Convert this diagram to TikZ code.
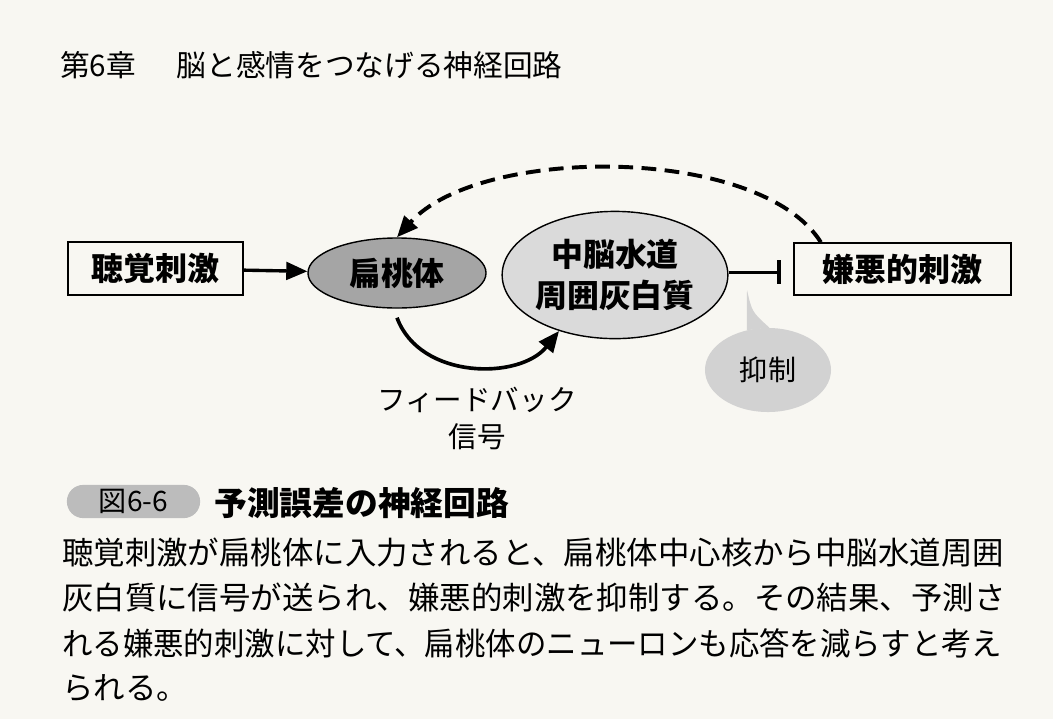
\documentclass[tikz,border=0pt]{standalone}
\usepackage{fontspec}
\setmainfont{Noto Sans CJK JP}
\usetikzlibrary{arrows.meta,shapes.geometric}
\definecolor{paper}{RGB}{248,247,242}
\definecolor{amygray}{RGB}{165,165,165}
\definecolor{paggray}{RGB}{218,218,218}
\definecolor{bubgray}{RGB}{210,210,210}
\definecolor{pillgray}{RGB}{188,188,188}
\newcommand{\bodyfont}{\fontsize{22.35}{26}\selectfont}
\begin{document}
\begin{tikzpicture}[x=0.025cm,y=-0.025cm,
  stim/.style={draw,line width=1pt,inner sep=0pt,font=\fontsize{22.7}{26}\selectfont\bfseries},
  region/.style={ellipse,draw,line width=1pt,inner sep=0pt,align=center,
    font=\fontsize{22.7}{29}\selectfont\bfseries},
  tip/.style={-{Triangle[length=15pt,width=12.5pt]}},
  bodyline/.style={anchor=west,inner sep=0pt,font=\bodyfont}]
\useasboundingbox[fill=paper] (0,0) rectangle (1053,719);
% heading
\node[anchor=west,inner sep=0pt,font=\fontsize{21.1}{24}\selectfont] (chap) at (60,65)
  {第6章\hspace{29pt}脳と感情をつなげる神経回路};
% nodes
\node[stim,minimum width=4.38cm,minimum height=1.33cm] (audi) at (155.5,268.5) {聴覚刺激};
\node[region,fill=amygray,minimum width=4.45cm,minimum height=1.75cm] (amyg) at (397,273) {扁桃体};
\node[region,fill=paggray,minimum width=5.03cm,minimum height=3.18cm] (pag) at (615,275) {中脳水道\\周囲灰白質};
\node[stim,minimum width=5.43cm,minimum height=1.3cm] (avers) at (902.5,269) {嫌悪的刺激};
\node[ellipse,fill=bubgray,inner sep=0pt,minimum width=3.15cm,minimum height=2.1cm,
  font=\fontsize{20}{24}\selectfont] (inh) at (768,370) {抑制};
\fill[bubgray] (inh.118) -- (747,290) .. controls (752,312) .. (inh.88) -- cycle;
\node[align=center,inner sep=0pt,font=\fontsize{20.3}{26.3}\selectfont] (fblabel) at (477,418) {フィードバック\\信号};
% connectors
\draw[tip,line width=2.4pt] (audi) -- (amyg);
\draw[line width=2.4pt,-{Bar[width=17pt,line width=3.2pt]},shorten >=8.5pt]
  ([yshift=2pt]pag.east) -- ([yshift=2pt]pag.east -| avers.west);
\draw[tip,line width=2.6pt] (amyg.south) ++(0,9) .. controls (420,380) and (520,380) .. (pag.225);
\draw[tip,line width=2.8pt,dash pattern=on 10.5pt off 6pt]
  ([xshift=-2.04cm]avers.north) .. controls (760,145) and (480,145) .. (amyg.north);
% caption
\node[fill=pillgray,rounded corners=0.41cm,minimum width=3.33cm,minimum height=0.83cm,inner sep=0pt,
  font=\fontsize{20}{24}\selectfont] (fig) at (133.5,501.5) {図6-6};
\node[anchor=west,inner sep=0pt,font=\fontsize{23.3}{26}\selectfont\bfseries] (title) at (214,503) {予測誤差の神経回路};
\node[bodyline] (l1) at (62,553) {聴覚刺激が扁桃体に入力されると、扁桃体中心核から中脳水道周囲};
\node[bodyline] (l2) at (62,598) {灰白質に信号が送られ、嫌悪的刺激を抑制する。その結果、予測さ};
\node[bodyline] (l3) at (62,643) {\scalebox{0.968}[1]{れる嫌悪的刺激に対して、扁桃体のニューロンも応答を減らすと考え}};
\node[bodyline] (l4) at (62,688) {られる。};
\end{tikzpicture}
\end{document}
